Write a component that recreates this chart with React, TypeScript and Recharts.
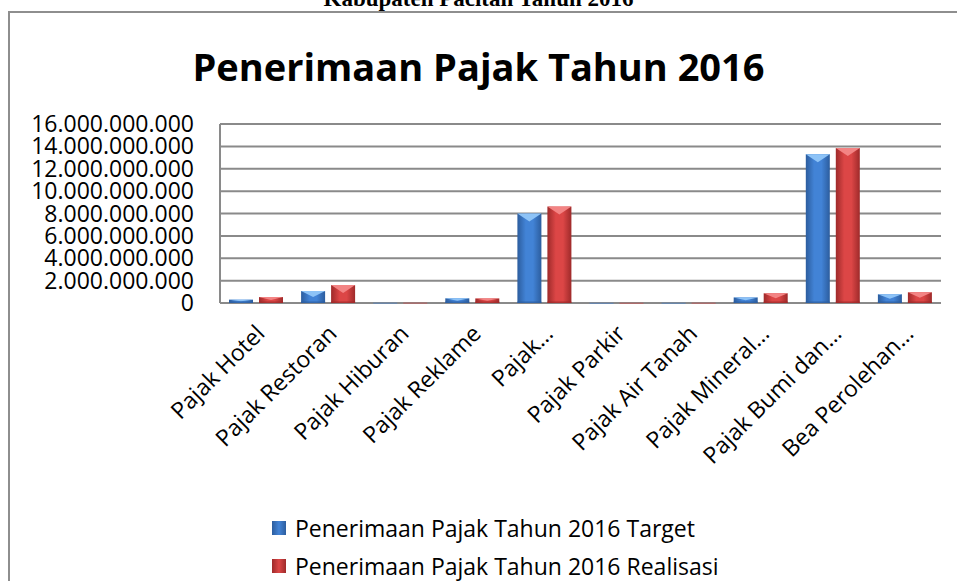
import React from 'react';
import { BarChart, Bar, XAxis, YAxis, CartesianGrid } from 'recharts';

// kategori pajak (label sumbu seperti di grafik Excel, dipotong dengan …)
const categories = [
  'Pajak Hotel',
  'Pajak Restoran',
  'Pajak Hiburan',
  'Pajak Reklame',
  'Pajak…',
  'Pajak Parkir',
  'Pajak Air Tanah',
  'Pajak Mineral…',
  'Pajak Bumi dan…',
  'Bea Perolehan…',
];

// nilai dalam rupiah
const target = [300e6, 1070e6, 30e6, 420e6, 7990e6, 20e6, 25e6, 500e6, 13300e6, 780e6];
const realisasi = [530e6, 1600e6, 35e6, 410e6, 8620e6, 25e6, 30e6, 870e6, 13850e6, 960e6];

const yTicks = [0, 2e9, 4e9, 6e9, 8e9, 10e9, 12e9, 14e9, 16e9];

const seriesNames = [
  'Penerimaan Pajak Tahun 2016 Target',
  'Penerimaan Pajak Tahun 2016 Realisasi',
];

const FONT = '"Open Sans", sans-serif';

const data = categories.map((c, i) => ({ name: c, target: target[i], realisasi: realisasi[i] }));

const fmt = (v: number) => String(Math.round(v)).replace(/\B(?=(\d{3})+(?!\d))/g, '.');

const palette: Record<string, { edge: string; mid: string; top: string }> = {
  blue: { edge: '#2c5d9e', mid: '#4283d6', top: '#8dc3f7' },
  red: { edge: '#9e2a2a', mid: '#dc4646', top: '#f38484' },
};

// batang dengan efek bevel ala Excel
const bevelBar = (key: string) => (props: any) => {
  const { x, y, width, height } = props;
  if (!height || height <= 0) return <g />;
  const c = palette[key];
  const id = `grad-${key}`;
  if (height < 3) {
    return <rect x={x} y={y} width={width} height={Math.max(height, 1)} fill={c.mid} opacity={0.6} />;
  }
  const b = Math.min(8, height / 2);
  return (
    <g>
      <defs>
        <linearGradient id={id} x1="0" y1="0" x2="1" y2="0">
          <stop offset="0%" stopColor={c.edge} />
          <stop offset="35%" stopColor={c.mid} />
          <stop offset="65%" stopColor={c.mid} />
          <stop offset="100%" stopColor={c.edge} />
        </linearGradient>
      </defs>
      <rect x={x} y={y} width={width} height={height} fill={`url(#${id})`} />
      <polygon points={`${x},${y} ${x + width},${y} ${x + width / 2},${y + b}`} fill={c.top} />
      <rect x={x} y={y + height - 1.5} width={width} height={1.5} fill={c.edge} opacity={0.7} />
    </g>
  );
};

const XTick = (props: any) => {
  const { x, y, payload } = props;
  const ax = x + 10;
  const ay = y;
  return (
    <text
      x={ax}
      y={ay}
      transform={`rotate(-45, ${ax}, ${ay})`}
      textAnchor="end"
      fontSize={23}
      fontFamily={FONT}
      fill="#000"
    >
      {payload.value}
    </text>
  );
};

const YTick = (props: any) => {
  const { x, y, payload } = props;
  return (
    <text x={x} y={y} dy={8} textAnchor="end" fontSize={23} fontFamily={FONT} fill="#000">
      {fmt(payload.value)}
    </text>
  );
};

const legendColors = ['blue', 'red'];

export default function App() {
  return (
    <div
      style={{
        position: 'absolute',
        left: 0,
        top: 0,
        width: 957,
        height: 581,
        overflow: 'hidden',
        background: '#fff',
      }}
    >
      <div
        style={{
          position: 'absolute',
          left: 0,
          width: 957,
          top: -14,
          textAlign: 'center',
          fontFamily: '"Liberation Serif", serif',
          fontWeight: 'bold',
          fontSize: 23,
          lineHeight: '26px',
        }}
      >
        Kabupaten Pacitan Tahun 2016
      </div>
      {/* bingkai area grafik */}
      <div
        style={{
          position: 'absolute',
          left: 8,
          top: 11,
          width: 1000,
          height: 700,
          border: '2px solid #8e8e8e',
        }}
      />
      <div
        style={{
          position: 'absolute',
          left: 0,
          width: 957,
          top: 41,
          textAlign: 'center',
          fontFamily: FONT,
          fontWeight: 'bold',
          fontSize: 38,
          lineHeight: '50px',
        }}
      >
        Penerimaan Pajak Tahun 2016
      </div>
      <div style={{ position: 'absolute', left: 0, top: 0 }}>
        <BarChart
          width={957}
          height={581}
          data={data}
          margin={{ top: 124, right: 16, bottom: 178, left: 0 }}
          barSize={24}
          barGap={6}
        >
          <CartesianGrid vertical={false} stroke="#8a8a8a" strokeWidth={2} />
          <XAxis
            dataKey="name"
            interval={0}
            height={100}
            axisLine={false}
            tickLine={false}
            tickSize={0}
            tickMargin={32}
            tick={<XTick />}
          />
          <YAxis
            width={220}
            domain={[0, 16e9]}
            ticks={yTicks}
            interval={0}
            axisLine={{ stroke: '#8a8a8a', strokeWidth: 2 }}
            tickLine={false}
            tickSize={0}
            tickMargin={26}
            tick={<YTick />}
          />
          <Bar dataKey="target" name={seriesNames[0]} shape={bevelBar('blue')} isAnimationActive={false} />
          <Bar dataKey="realisasi" name={seriesNames[1]} shape={bevelBar('red')} isAnimationActive={false} />
        </BarChart>
      </div>
      {/* legenda */}
      <div style={{ position: 'absolute', left: 272, top: 509, fontFamily: FONT, fontSize: 23 }}>
        {seriesNames.map((n, i) => (
          <div key={n} style={{ display: 'flex', alignItems: 'center', height: 38 }}>
            <span
              style={{
                display: 'inline-block',
                width: 14,
                height: 14,
                marginRight: 9,
                background: `linear-gradient(to right, ${palette[legendColors[i]].edge}, ${palette[legendColors[i]].mid}, ${palette[legendColors[i]].edge})`,
              }}
            />
            <span>{n}</span>
          </div>
        ))}
      </div>
    </div>
  );
}
